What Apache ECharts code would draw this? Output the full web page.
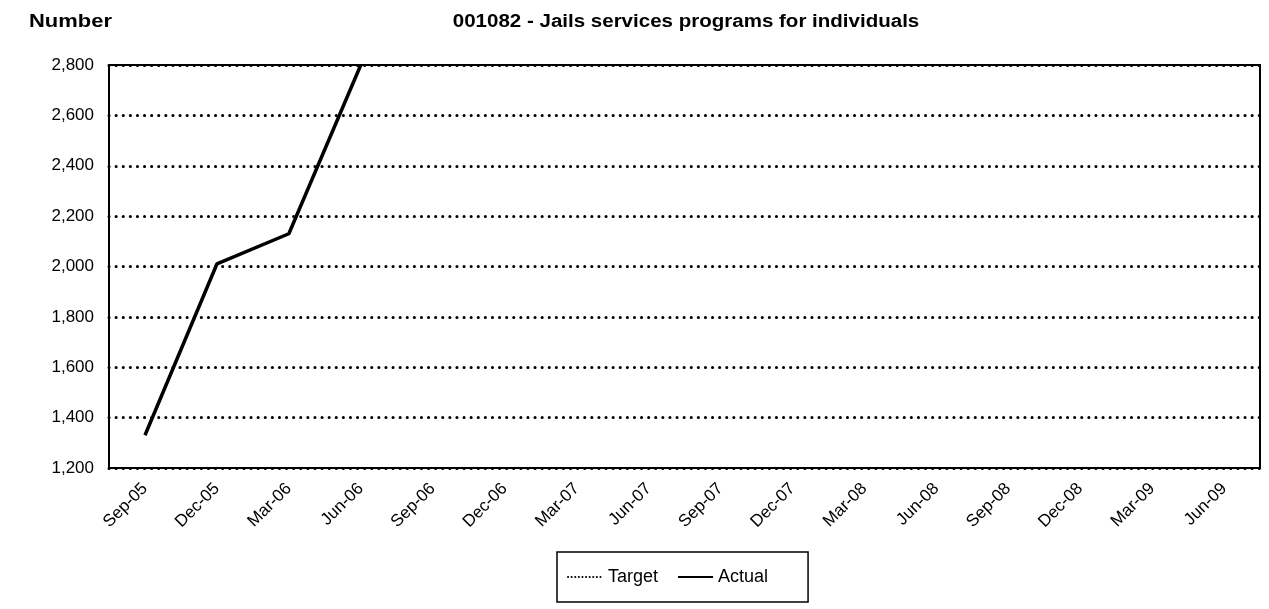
<!DOCTYPE html>
<html>
<head>
<meta charset="utf-8">
<script src="https://cdn.jsdelivr.net/npm/echarts@6/dist/echarts.min.js"></script>
<style>
html,body{margin:0;padding:0;background:#fff;}
#chart{width:1269px;height:609px;}
</style>
</head>
<body>
<div id="chart"></div>
<script>
// Quarterly periods shown on the category axis
const quarters = ['Sep-05','Dec-05','Mar-06','Jun-06','Sep-06','Dec-06','Mar-07','Jun-07',
  'Sep-07','Dec-07','Mar-08','Jun-08','Sep-08','Dec-08','Mar-09','Jun-09'];
// Number of individuals: reported actuals and target (no target values recorded)
const actualValues = [1330, 2010, 2130, 2800, null, null, null, null, null, null, null, null, null, null, null, null];
const targetValues = [null, null, null, null, null, null, null, null, null, null, null, null, null, null, null, null];
// Value axis range
const yMin = 1200, yMax = 2800, yStep = 200;

const font = '"Liberation Sans", Arial, sans-serif';
const chart = echarts.init(document.getElementById('chart'));
chart.setOption({
  animation: false,
  backgroundColor: '#fff',
  // Wide bold headings
  graphic: [
    { type: 'text', x: 29, y: 13, scaleX: 1.22,
      style: { text: 'Number', font: 'bold 18px ' + font, fill: '#000', textAlign: 'left', textVerticalAlign: 'top' } },
    { type: 'text', x: 686, y: 13, scaleX: 1.14,
      style: { text: '001082 - Jails services programs for individuals', font: 'bold 18px ' + font, fill: '#000',
        textAlign: 'center', textVerticalAlign: 'top' } }
  ],
  grid: { left: 109, right: 9, top: 65, bottom: 141, show: true, borderColor: '#000', borderWidth: 2 },
  legend: {
    left: 557, top: 552,
    padding: [16, 40, 16, 10],
    borderColor: '#000', borderWidth: 1.5,
    itemWidth: 35, itemHeight: 18, itemGap: 19,
    itemStyle: { color: 'transparent', borderColor: 'transparent', borderWidth: 0, opacity: 0 },
    textStyle: { fontFamily: font, fontSize: 18, color: '#000' },
    data: ['Target', 'Actual']
  },
  xAxis: {
    type: 'category', data: quarters, boundaryGap: true,
    axisLine: { show: true, lineStyle: { color: '#000', width: 2 } },
    axisTick: { show: false },
    axisLabel: { rotate: 45, margin: 18, fontFamily: font, fontSize: 17, color: '#000' }
  },
  yAxis: {
    type: 'value', min: yMin, max: yMax, interval: yStep,
    axisLine: { show: true, lineStyle: { color: '#000', width: 2 } },
    axisTick: { show: false },
    axisLabel: { margin: 15, fontFamily: font, fontSize: 17, color: '#000',
      formatter: v => v.toLocaleString('en-US') },
    splitLine: { show: true, lineStyle: { color: '#000', width: 3, type: [0.1, 7], cap: 'round' } }
  },
  series: [
    { name: 'Target', type: 'line', data: targetValues, symbol: 'none',
      lineStyle: { color: '#000', width: 3, type: [0.1, 3.5], cap: 'round' }, itemStyle: { color: '#000' } },
    { name: 'Actual', type: 'line', data: actualValues, symbol: 'none', clip: true,
      lineStyle: { color: '#000', width: 3.5 }, itemStyle: { color: '#000' } }
  ]
});
</script>
</body>
</html>
